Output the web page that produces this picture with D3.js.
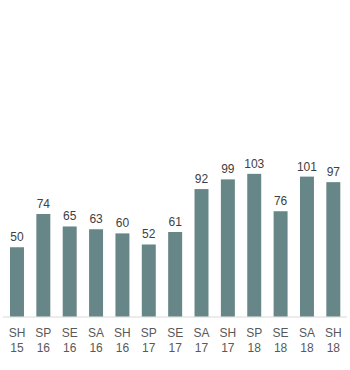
<!DOCTYPE html>
<html><head><meta charset="utf-8">
<script src="https://cdn.jsdelivr.net/npm/d3@7"></script>
<style>body{margin:0;background:#fff;}svg{display:block;font-family:"Liberation Sans",Arial,sans-serif;}</style>
</head><body><svg id="c" width="350" height="370"></svg>
<script>
const seasons = ["SH","SP","SE","SA","SH","SP","SE","SA","SH","SP","SE","SA","SH"];
const years = ["15","16","16","16","16","17","17","17","17","18","18","18","18"];
const values = [50,74,65,63,60,52,61,92,99,103,76,101,97];
const cats = seasons.map((s,i)=>s+" "+years[i]);

const svg = d3.select("#c");
const x = d3.scaleBand().domain(cats).range([3.8,346.5]).paddingInner(0.47).paddingOuter(0.235);
const y = d3.scaleLinear().domain([0,120]).range([316.5,150.3]);

svg.append("line").attr("x1",3).attr("x2",347).attr("y1",317).attr("y2",317)
  .attr("stroke","#d9d9d9").attr("stroke-width",1);

svg.selectAll("rect.bar").data(values).join("rect").attr("class","bar")
  .attr("x",(d,i)=>x(cats[i])).attr("width",x.bandwidth())
  .attr("y",d=>y(d)).attr("height",d=>y(0)-y(d)).attr("fill","#678687");

svg.selectAll("text.val").data(values).join("text").attr("class","val")
  .attr("x",(d,i)=>x(cats[i])+x.bandwidth()/2).attr("y",d=>y(d)-6)
  .attr("text-anchor","middle").attr("font-size",12).attr("fill","#404040").text(d=>d);

const lab = svg.selectAll("text.cat").data(cats).join("text").attr("class","cat")
  .attr("text-anchor","middle").attr("font-size",12).attr("fill","#595959");
lab.append("tspan").attr("x",(d,i)=>x(d)+x.bandwidth()/2).attr("y",337).text((d,i)=>seasons[i]);
lab.append("tspan").attr("x",(d,i)=>x(d)+x.bandwidth()/2).attr("y",352).text((d,i)=>years[i]);
</script></body></html>
